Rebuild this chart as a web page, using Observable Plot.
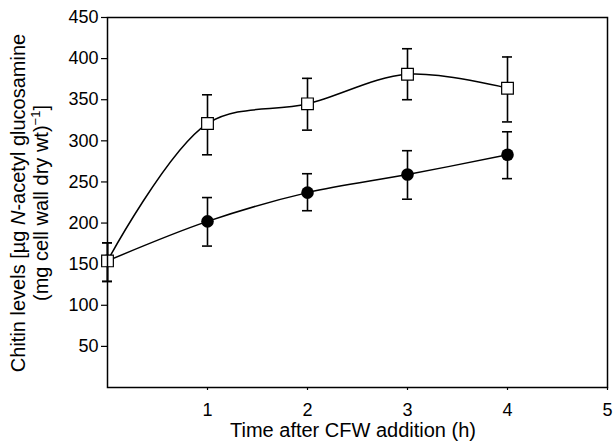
<!DOCTYPE html>
<html><head><meta charset="utf-8">
<script src="https://cdn.jsdelivr.net/npm/d3@7"></script>
<script src="https://cdn.jsdelivr.net/npm/@observablehq/plot@0.6"></script>
<style>body{margin:0;background:#fff}</style>
</head><body><div id="chart"></div>
<script>
// Time after CFW addition (h)
const times = [0, 1, 2, 3, 4];
// Open squares (CFW-treated)
const cfwMean = [154, 321, 345, 381, 364];
const cfwLow  = [129, 283, 313, 350, 323];
const cfwHigh = [176, 356, 376, 412, 402];
// Filled circles (control)
const ctlMean = [154, 202, 237, 259, 283];
const ctlLow  = [129, 172, 215, 229, 254];
const ctlHigh = [176, 231, 260, 288, 311];
const xTicks = [1, 2, 3, 4, 5];
const yTicks = [50, 100, 150, 200, 250, 300, 350, 400, 450];
const xLabel = "Time after CFW addition (h)";

const cfw = times.map((t, i) => ({x: t, y: cfwMean[i], lo: cfwLow[i], hi: cfwHigh[i]}));
const ctl = times.map((t, i) => ({x: t, y: ctlMean[i], lo: ctlLow[i], hi: ctlHigh[i]}));
const bars = [...ctl, ...cfw];
const capHalf = 0.05;

const font = "'Liberation Sans', Arial, Helvetica, sans-serif";

const plot = Plot.plot({
  width: 613,
  height: 446,
  marginLeft: 107,
  marginRight: 6,
  marginTop: 17,
  marginBottom: 59,
  style: {fontFamily: font, fontSize: "18px", color: "black", background: "white"},
  x: {domain: [0, 5]},
  y: {domain: [0, 450]},
  marks: [
    Plot.axisY({ticks: yTicks, tickFormat: "d", tickSize: 6, tickPadding: 3, label: null, strokeWidth: 1.2}),
    Plot.axisX({ticks: xTicks, tickFormat: "d", tickSize: 3, tickPadding: 13, label: null, strokeWidth: 1.2}),
    Plot.ruleX(bars, {x: "x", y1: "lo", y2: "hi", stroke: "black", strokeWidth: 1.6}),
    Plot.ruleY(bars, {y: "lo", x1: d => d.x - capHalf, x2: d => d.x + capHalf, stroke: "black", strokeWidth: 1.6}),
    Plot.ruleY(bars, {y: "hi", x1: d => d.x - capHalf, x2: d => d.x + capHalf, stroke: "black", strokeWidth: 1.6}),
    Plot.line(ctl, {x: "x", y: "y", curve: "catmull-rom", stroke: "black", strokeWidth: 1.5}),
    Plot.line(cfw, {x: "x", y: "y", curve: "catmull-rom", stroke: "black", strokeWidth: 1.5}),
    Plot.dot(ctl, {x: "x", y: "y", r: 6.3, fill: "black", stroke: "none"}),
    Plot.dot(cfw, {x: "x", y: "y", symbol: "square", r: 6.6, fill: "white", stroke: "black", strokeWidth: 1.2}),
    Plot.frame({stroke: "black", strokeWidth: 1.5})
  ]
});

const svg = d3.select(plot);
const xs = plot.scale("x");
const cx = (xs.apply(0) + xs.apply(5)) / 2 - 4;

svg.append("text")
  .attr("x", cx).attr("y", 437)
  .attr("text-anchor", "middle")
  .attr("font-family", font).attr("font-size", 20)
  .attr("fill", "black")
  .text(xLabel);

const l1 = svg.append("text")
  .attr("transform", "translate(25,203) rotate(-90)")
  .attr("text-anchor", "middle")
  .attr("font-family", font).attr("font-size", 20)
  .attr("fill", "black");
l1.append("tspan").text("Chitin levels [µg ");
l1.append("tspan").attr("font-style", "italic").text("N");
l1.append("tspan").text("-acetyl glucosamine");

const l2 = svg.append("text")
  .attr("transform", "translate(48,203) rotate(-90)")
  .attr("text-anchor", "middle")
  .attr("font-family", font).attr("font-size", 20)
  .attr("fill", "black");
l2.append("tspan").text("(mg cell wall dry wt)");
l2.append("tspan").attr("font-size", 13).attr("dy", -8).text("−1");
l2.append("tspan").attr("dy", 8).text("]");

document.getElementById("chart").appendChild(plot);
</script>
</body></html>
